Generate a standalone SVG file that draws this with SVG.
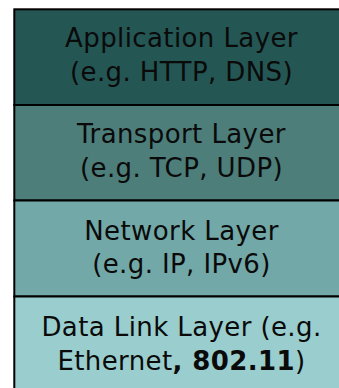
<svg xmlns="http://www.w3.org/2000/svg" width="339" height="388" viewBox="0 0 339 388">
  <style>
    .layer { stroke: #000; stroke-width: 2; }
    .label { font-family: "DejaVu Sans", Verdana, sans-serif; font-size: 26px; letter-spacing: 0.4px; fill: #0a0a0a; text-anchor: middle; }
    .b { font-weight: bold; }
  </style>
  <rect width="339" height="388" fill="#ffffff"/>

  <g id="application">
    <rect class="layer" x="14.3" y="9.3" width="336" height="95.7" fill="#245654"/>
    <text class="label" x="181.5" y="47">Application Layer</text>
    <text class="label" x="181.5" y="81">(e.g. HTTP, DNS)</text>
  </g>

  <g id="transport">
    <rect class="layer" x="14.3" y="105" width="336" height="95.5" fill="#4d7e7a"/>
    <text class="label" x="181.5" y="143">Transport Layer</text>
    <text class="label" x="181.5" y="177">(e.g. TCP, UDP)</text>
  </g>

  <g id="network">
    <rect class="layer" x="14.3" y="200.5" width="336" height="96" fill="#72a8a7"/>
    <text class="label" x="181.5" y="240">Network Layer</text>
    <text class="label" x="181.5" y="273">(e.g. IP, IPv6)</text>
  </g>

  <g id="datalink">
    <rect class="layer" x="14.3" y="296.5" width="336" height="100" fill="#9acdcd"/>
    <text class="label" x="181.5" y="336">Data Link Layer (e.g.</text>
    <text class="label" x="181.5" y="370">Ethernet<tspan class="b">, 802.11</tspan>)</text>
  </g>

  <g id="connectors"></g>
</svg>
